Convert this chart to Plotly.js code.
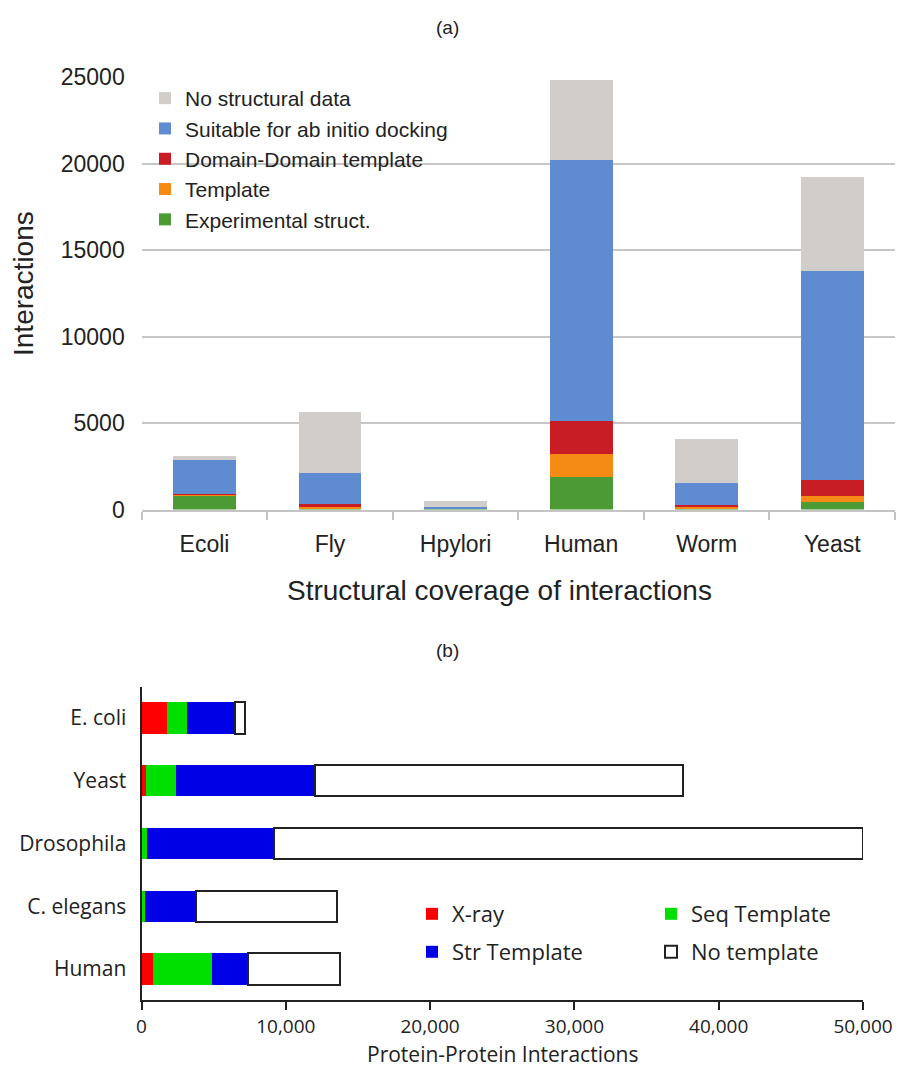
<!DOCTYPE html>
<html>
<head>
<meta charset="utf-8">
<script src="https://cdn.plot.ly/plotly-3.0.1.min.js"></script>
<style>html,body{margin:0;padding:0;background:#fff;}#chart{width:901px;height:1068px;}</style>
</head>
<body>
<div id="chart"></div>
<script>
// ---- Panel (a) data ----
const speciesA = ["Ecoli", "Fly", "Hpylori", "Human", "Worm", "Yeast"];
const experimental = [780, 20, 10, 1900, 20, 450];
const templateA = [30, 120, 10, 1300, 140, 350];
const domainDomain = [80, 200, 20, 1900, 120, 900];
const abInitio = [1990, 1790, 130, 15100, 1260, 12090];
const noStructural = [200, 3480, 350, 4600, 2530, 5430];
const yTicksA = [0, 5000, 10000, 15000, 20000, 25000];

// ---- Panel (b) data ----
const speciesB = ["E. coli", "Yeast", "Drosophila", "C. elegans", "Human"];
const xray = [1800, 280, 30, 30, 800];
const seqTemplate = [1340, 2120, 380, 200, 4110];
const strTemplate = [3320, 9650, 8750, 3530, 2500];
const noTemplate = [740, 25500, 40840, 9790, 6350];
const xTicksB = [0, 10000, 20000, 30000, 40000, 50000];
const xTickTextB = ["0", "10,000", "20,000", "30,000", "40,000", "50,000"];

const W = 901, H = 1068;
const px = x => x / W;
const py = y => 1 - y / H;

const fA = "Liberation Sans, Arial, sans-serif";
const fB = "Open Sans, sans-serif";

function barA(name, vals, color) {
  return {type: "bar", name: name, x: speciesA, y: vals, xaxis: "x", yaxis: "y",
    marker: {color: color, line: {width: 0}}, width: 0.5, legend: "legend", hoverinfo: "y+name"};
}
function barB(name, vals, color, line, lg) {
  return {type: "bar", orientation: "h", name: name, y: speciesB, x: vals, xaxis: "x2", yaxis: "y2",
    marker: {color: color, line: line}, width: 0.5, legend: lg, hoverinfo: "x+name"};
}

const data = [
  barA("Experimental struct.", experimental, "#4b9a33"),
  barA("Template", templateA, "#f58a15"),
  barA("Domain-Domain template", domainDomain, "#c81d25"),
  barA("Suitable for ab initio docking", abInitio, "#5f8bd0"),
  barA("No structural data", noStructural, "#d0cdca"),
  barB("X-ray", xray, "#ff0000", {width: 0}, "legend2"),
  barB("Seq Template", seqTemplate, "#00e000", {width: 0}, "legend2"),
  barB("Str Template", strTemplate, "#0000e6", {width: 0}, "legend3"),
  barB("No template", noTemplate, "#ffffff", {width: 2, color: "#222"}, "legend3")
];

const layout = {
  width: W, height: H,
  margin: {l: 0, r: 0, t: 0, b: 0},
  paper_bgcolor: "#fff", plot_bgcolor: "#fff",
  barmode: "stack",
  bargap: 0.5,
  font: {family: fA, color: "#222"},
  xaxis: {
    domain: [px(141.7), px(895)], anchor: "y",
    type: "category", categoryorder: "array", categoryarray: speciesA,
    showline: true, linecolor: "#c4c4c4", linewidth: 2,
    ticks: "outside", tickson: "boundaries", ticklen: 8, tickcolor: "#c4c4c4", tickwidth: 2,
    tickfont: {family: fA, size: 23, color: "#222"}, ticklabelstandoff: 13,
    showgrid: false, automargin: false
  },
  yaxis: {
    domain: [py(509.5), py(77)], anchor: "x",
    range: [0, 25000], tickvals: yTicksA, ticktext: yTicksA.map(String),
    showgrid: true, gridcolor: "#c6c6c6", gridwidth: 2, zeroline: false,
    showline: false, ticks: "",
    tickfont: {family: fA, size: 23, color: "#222"}, ticklabelstandoff: 16,
    automargin: false
  },
  xaxis2: {
    domain: [px(141.5), px(863)], anchor: "y2",
    range: [0, 50000], tickvals: xTicksB, ticktext: xTickTextB,
    showline: true, linecolor: "#222", linewidth: 2,
    ticks: "outside", ticklen: 8, tickwidth: 2, tickcolor: "#222",
    tickfont: {family: fB, size: 19, color: "#222"}, ticklabelstandoff: 0,
    showgrid: false, zeroline: false, automargin: false
  },
  yaxis2: {
    domain: [py(1000.4), py(686.6)], anchor: "x2",
    type: "category", categoryorder: "array", categoryarray: speciesB, autorange: "reversed",
    showline: true, linecolor: "#222", linewidth: 2, ticks: "",
    tickfont: {family: fB, size: 21, color: "#222"}, ticklabelstandoff: 9,
    showgrid: false, automargin: false
  },
  legend: {
    x: px(145), y: py(78), xanchor: "left", yanchor: "top",
    traceorder: "reversed", orientation: "v",
    font: {family: fA, size: 21, color: "#222"},
    bgcolor: "rgba(0,0,0,0)", tracegroupgap: 0
  },
  legend2: {
    x: px(412), y: py(893), xanchor: "left", yanchor: "top",
    orientation: "h", entrywidth: 194, traceorder: "normal",
    font: {family: fB, size: 22, color: "#222"}, bgcolor: "rgba(0,0,0,0)"
  },
  legend3: {
    x: px(412), y: py(931), xanchor: "left", yanchor: "top",
    orientation: "h", entrywidth: 194, traceorder: "normal",
    font: {family: fB, size: 22, color: "#222"}, bgcolor: "rgba(0,0,0,0)"
  },
  annotations: [
    {text: "(a)", x: px(447), y: py(28), xref: "paper", yref: "paper", showarrow: false,
     xanchor: "center", yanchor: "middle", font: {family: fA, size: 19, color: "#222"}},
    {text: "Interactions", x: px(23), y: py(284), xref: "paper", yref: "paper", showarrow: false,
     xanchor: "center", yanchor: "middle", textangle: -90, font: {family: fA, size: 28, color: "#222"}},
    {text: "Structural coverage of interactions", x: px(500), y: py(590), xref: "paper", yref: "paper",
     xanchor: "center", yanchor: "middle", showarrow: false, font: {family: fA, size: 28, color: "#222"}},
    {text: "(b)", x: px(447), y: py(650), xref: "paper", yref: "paper", showarrow: false,
     xanchor: "center", yanchor: "middle", font: {family: fA, size: 19, color: "#222"}},
    {text: "Protein-Protein Interactions", x: px(502), y: py(1054), xref: "paper", yref: "paper",
     xanchor: "center", yanchor: "middle", showarrow: false, font: {family: fB, size: 21, color: "#222"}}
  ]
};

Plotly.newPlot("chart", data, layout, {displayModeBar: false, staticPlot: true});
</script>
</body>
</html>
